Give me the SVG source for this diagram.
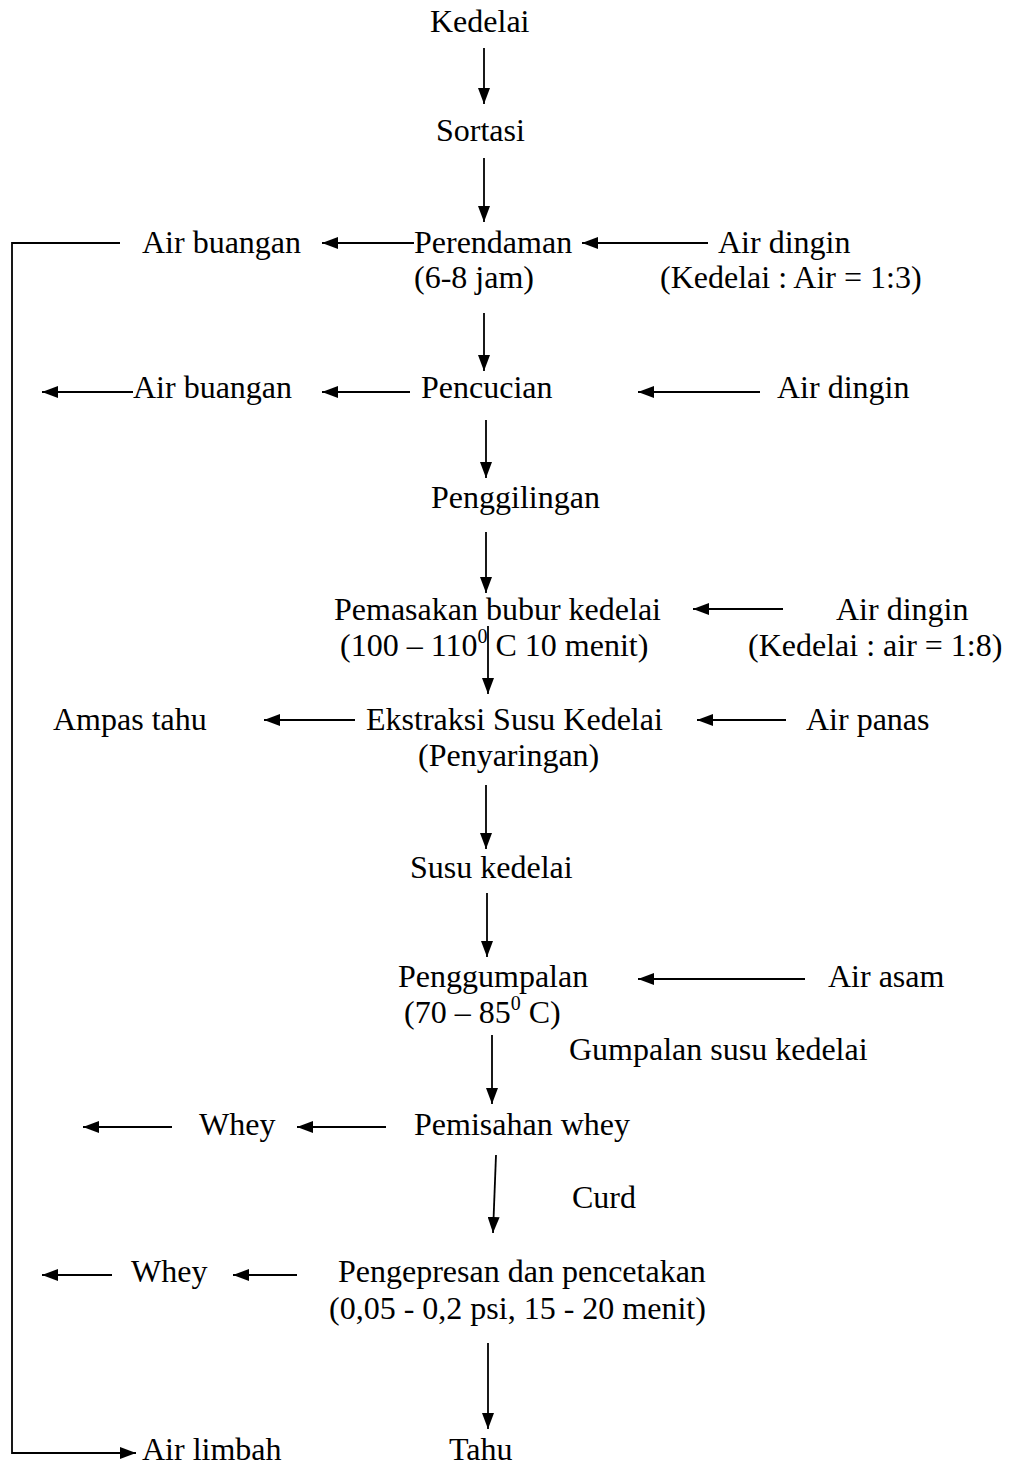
<svg xmlns="http://www.w3.org/2000/svg" width="1011" height="1469" viewBox="0 0 1011 1469">
<style>
text{font-family:"Liberation Serif","Times New Roman",serif;font-size:32px;fill:#000}
.sup{font-size:20px}
.c{stroke:#000;stroke-width:1.8;fill:none}
</style>
<defs>
<marker id="ah" viewBox="0 0 16 12" refX="16" refY="6" markerWidth="16" markerHeight="12" markerUnits="userSpaceOnUse" orient="auto">
<path d="M0,0 L16,6 L0,12 Z" fill="#000" stroke="none"/>
</marker>
</defs>
<rect width="1011" height="1469" fill="#fff"/>
<g id="kedelai"><text x="430" y="32">Kedelai</text></g>
<g id="sortasi"><text x="436" y="141">Sortasi</text></g>
<g id="perendaman"><text x="414" y="253">Perendaman</text><text x="414" y="288">(6-8 jam)</text></g>
<g id="air-dingin-1"><text x="718" y="253">Air dingin</text><text x="660" y="288">(Kedelai : Air = 1:3)</text></g>
<g id="air-buangan-1"><text x="142" y="253">Air buangan</text></g>
<g id="pencucian"><text x="421" y="398">Pencucian</text></g>
<g id="air-buangan-2"><text x="133" y="398">Air buangan</text></g>
<g id="air-dingin-2"><text x="777" y="398">Air dingin</text></g>
<g id="penggilingan"><text x="431" y="508">Penggilingan</text></g>
<g id="pemasakan"><text x="334" y="620">Pemasakan bubur kedelai</text><text x="340" y="656">(100 – 110<tspan class="sup" dy="-13">0</tspan><tspan dy="13"> C 10 menit)</tspan></text></g>
<g id="air-dingin-3"><text x="836" y="620">Air dingin</text><text x="748" y="656">(Kedelai : air = 1:8)</text></g>
<g id="ampas-tahu"><text x="53" y="730">Ampas tahu</text></g>
<g id="ekstraksi"><text x="366" y="730">Ekstraksi Susu Kedelai</text><text x="418" y="766">(Penyaringan)</text></g>
<g id="air-panas"><text x="806" y="730">Air panas</text></g>
<g id="susu-kedelai"><text x="410" y="878">Susu kedelai</text></g>
<g id="penggumpalan"><text x="398" y="987">Penggumpalan</text><text x="404" y="1023">(70 – 85<tspan class="sup" dy="-13">0</tspan><tspan dy="13"> C)</tspan></text></g>
<g id="air-asam"><text x="828" y="987">Air asam</text></g>
<g id="gumpalan-label"><text x="569" y="1060">Gumpalan susu kedelai</text></g>
<g id="whey-1"><text x="199" y="1135">Whey</text></g>
<g id="pemisahan-whey"><text x="414" y="1135">Pemisahan whey</text></g>
<g id="curd-label"><text x="572" y="1208">Curd</text></g>
<g id="whey-2"><text x="131" y="1282">Whey</text></g>
<g id="pengepresan"><text x="338" y="1282">Pengepresan dan pencetakan</text><text x="329" y="1319">(0,05 - 0,2 psi, 15 - 20 menit)</text></g>
<g id="air-limbah"><text x="142" y="1460">Air limbah</text></g>
<g id="tahu"><text x="449" y="1460">Tahu</text></g>
<g id="connectors" class="c">
<line x1="484" y1="48" x2="484" y2="104" marker-end="url(#ah)"/>
<line x1="484" y1="158" x2="484" y2="222" marker-end="url(#ah)"/>
<line x1="484" y1="313" x2="484" y2="371" marker-end="url(#ah)"/>
<line x1="486" y1="420" x2="486" y2="478" marker-end="url(#ah)"/>
<line x1="486" y1="532" x2="486" y2="593" marker-end="url(#ah)"/>
<line x1="488" y1="626" x2="488" y2="694" marker-end="url(#ah)"/>
<line x1="486" y1="785" x2="486" y2="849" marker-end="url(#ah)"/>
<line x1="487" y1="893" x2="487" y2="957" marker-end="url(#ah)"/>
<line x1="492" y1="1035" x2="492" y2="1104" marker-end="url(#ah)"/>
<line x1="496" y1="1155" x2="493" y2="1233" marker-end="url(#ah)"/>
<line x1="488" y1="1343" x2="488" y2="1429" marker-end="url(#ah)"/>
<line x1="708" y1="243" x2="582" y2="243" marker-end="url(#ah)"/>
<line x1="414" y1="243" x2="322" y2="243" marker-end="url(#ah)"/>
<polyline points="120,243 12,243 12,1453 136,1453" marker-end="url(#ah)"/>
<line x1="133" y1="392" x2="42" y2="392" marker-end="url(#ah)"/>
<line x1="410" y1="392" x2="322" y2="392" marker-end="url(#ah)"/>
<line x1="760" y1="392" x2="638" y2="392" marker-end="url(#ah)"/>
<line x1="783" y1="609" x2="693" y2="609" marker-end="url(#ah)"/>
<line x1="355" y1="720" x2="264" y2="720" marker-end="url(#ah)"/>
<line x1="786" y1="720" x2="697" y2="720" marker-end="url(#ah)"/>
<line x1="805" y1="979" x2="638" y2="979" marker-end="url(#ah)"/>
<line x1="172" y1="1127" x2="83" y2="1127" marker-end="url(#ah)"/>
<line x1="386" y1="1127" x2="297" y2="1127" marker-end="url(#ah)"/>
<line x1="112" y1="1275" x2="42" y2="1275" marker-end="url(#ah)"/>
<line x1="297" y1="1275" x2="233" y2="1275" marker-end="url(#ah)"/>
</g>
</svg>
